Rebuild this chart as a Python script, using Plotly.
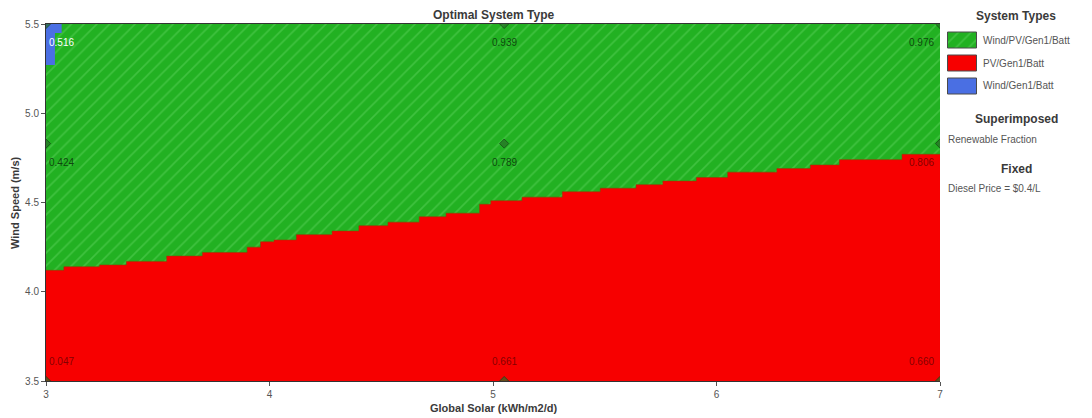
import plotly.graph_objects as go

# Sensitivity grid (global solar kWh/m2/d, wind speed m/s)
solar_points = [3.0, 5.05, 7.0]
wind_points = [3.5, 4.83, 5.5]

# Renewable fraction at each grid point, rows = wind speed (low -> high)
renewable_fraction = [
    ["0.047", "0.661", "0.660"],
    ["0.424", "0.789", "0.806"],
    ["0.516", "0.939", "0.976"],
]
# Optimal system at each grid point, same layout
optimal_system = [
    ["PV/Gen1/Batt", "PV/Gen1/Batt", "PV/Gen1/Batt"],
    ["Wind/PV/Gen1/Batt", "Wind/PV/Gen1/Batt", "PV/Gen1/Batt"],
    ["Wind/Gen1/Batt", "Wind/PV/Gen1/Batt", "Wind/PV/Gen1/Batt"],
]

# Wind speed above which Wind/PV/Gen1/Batt becomes optimal
boundary_solar = [3.00, 3.08, 3.24, 3.36, 3.54, 3.70, 3.90, 3.96, 4.02, 4.12,
                  4.28, 4.40, 4.53, 4.67, 4.79, 4.94, 4.99, 5.13, 5.31, 5.48,
                  5.64, 5.76, 5.91, 6.05, 6.27, 6.42, 6.55, 6.83, 7.00]
boundary_wind = [4.12, 4.14, 4.15, 4.17, 4.20, 4.22, 4.25, 4.28, 4.29, 4.32,
                 4.34, 4.37, 4.39, 4.42, 4.44, 4.49, 4.51, 4.53, 4.56, 4.58,
                 4.60, 4.62, 4.64, 4.67, 4.69, 4.71, 4.74, 4.77, 4.77]

# Small Wind/Gen1/Batt pocket in the upper-left corner
pocket_solar = [3.00, 3.07, 3.07, 3.04, 3.04, 3.00]
pocket_wind = [5.50, 5.50, 5.45, 5.45, 5.27, 5.27]

system_types = ["Wind/PV/Gen1/Batt", "PV/Gen1/Batt", "Wind/Gen1/Batt"]
x_ticks = [3, 4, 5, 6, 7]
y_ticks = [3.5, 4.0, 4.5, 5.0, 5.5]

GREEN = "#22b122"
GREEN_HATCH = "#3fc23f"
RED = "#f70000"
BLUE = "#4a6fe3"
FONT = "Liberation Sans, Arial, sans-serif"
HATCH = dict(shape="/", bgcolor=GREEN, fgcolor=GREEN_HATCH,
             size=9, solidity=0.18, fillmode="replace")
label_color = {"Wind/PV/Gen1/Batt": "rgba(10,50,10,0.85)",
               "PV/Gen1/Batt": "rgba(110,0,0,0.85)",
               "Wind/Gen1/Batt": "#ffffff"}

W, H = 1092, 418
px_l, px_r, px_t, px_b = 46, 940, 24, 381

fig = go.Figure()

# Green region: the full window, hatched
fig.add_trace(go.Scatter(
    x=[x_ticks[0], x_ticks[-1]], y=[y_ticks[-1], y_ticks[-1]],
    mode="lines", line=dict(width=0, color=GREEN), fill="tozeroy",
    fillcolor=GREEN, fillpattern=HATCH,
    hoverinfo="skip", showlegend=False))

# Red region below the stepped boundary
fig.add_trace(go.Scatter(
    x=boundary_solar, y=boundary_wind, mode="lines",
    line=dict(shape="hv", width=1, color="rgba(150,60,0,0.55)"),
    fill="tozeroy", fillcolor=RED, hoverinfo="skip", showlegend=False))

# Blue pocket
fig.add_trace(go.Scatter(
    x=pocket_solar, y=pocket_wind, mode="lines", line=dict(width=0),
    fill="toself", fillcolor=BLUE, hoverinfo="skip", showlegend=False))

# Grid point markers
gx, gy = [], []
for w in wind_points:
    for s in solar_points:
        gx.append(s)
        gy.append(w)
fig.add_trace(go.Scatter(
    x=gx, y=gy, mode="markers",
    marker=dict(symbol="diamond", size=7, color="rgba(40,110,40,0.7)",
                line=dict(width=1, color="rgba(20,70,20,0.7)")),
    hoverinfo="skip", showlegend=False))

annotations = []
# Renewable fraction labels
for i, w in enumerate(wind_points):
    for j, s in enumerate(solar_points):
        xanchor = "left" if j == 0 else ("center" if j == 1 else "right")
        xshift = 1 if j == 0 else (0 if j == 1 else -4)
        if i == 0:
            yanchor, yshift = "bottom", 12
        else:
            yanchor, yshift = "top", -11
        annotations.append(dict(
            x=s, y=w, xref="x", yref="y", text=renewable_fraction[i][j],
            showarrow=False, xanchor=xanchor, yanchor=yanchor,
            xshift=xshift, yshift=yshift,
            font=dict(family=FONT, size=10,
                      color=label_color[optimal_system[i][j]])))


def pxx(x):
    return x / W


def pxy(y):
    return 1 - y / H


def paper_text(x, y, text, size, color, xanchor="center", angle=0):
    return dict(x=pxx(x), y=pxy(y), xref="paper", yref="paper", text=text,
                showarrow=False, xanchor=xanchor, yanchor="middle",
                textangle=angle, font=dict(family=FONT, size=size, color=color))


DARK = "#3a3a3a"
GREY = "#555555"
# Chart and axis titles
annotations.append(paper_text((px_l + px_r) / 2, 15, "<b>Optimal System Type</b>", 12, DARK))
annotations.append(paper_text((px_l + px_r) / 2, 408, "<b>Global Solar (kWh/m2/d)</b>", 11, DARK))
annotations.append(paper_text(15, 203, "<b>Wind Speed (m/s)</b>", 11, DARK, angle=-90))

# Side panel text
side_left = 946
annotations.append(paper_text(1016, 16, "<b>System Types</b>", 12, DARK))
for k, name in enumerate(system_types):
    annotations.append(paper_text(981, 40 + 23 * k, name, 10, GREY, xanchor="left"))
annotations.append(paper_text(1016, 119, "<b>Superimposed</b>", 12, DARK))
annotations.append(paper_text(side_left, 139, "Renewable Fraction", 10, GREY, xanchor="left"))
annotations.append(paper_text(1016, 169, "<b>Fixed</b>", 12, DARK))
annotations.append(paper_text(side_left, 188, "Diesel Price = $0.4/L", 10, GREY, xanchor="left"))

# Legend swatches on a small auxiliary axis (pixel units)
sw_colors = [GREEN, RED, BLUE]
sw_top = [32, 55, 78]
for k, c in enumerate(sw_colors):
    t, b = sw_top[k], sw_top[k] + 16
    kw = {"fillpattern": HATCH} if k == 0 else {}
    fig.add_trace(go.Scatter(
        x=[0, 29, 29, 0, 0], y=[t, t, b, b, t], mode="lines",
        line=dict(width=1, color="#4a4a4a"), fill="toself", fillcolor=c,
        xaxis="x2", yaxis="y2", hoverinfo="skip", showlegend=False, **kw))

fig.update_layout(
    width=W, height=H,
    margin=dict(l=0, r=0, t=0, b=0, pad=0),
    paper_bgcolor="white", plot_bgcolor="white",
    font=dict(family=FONT, size=10, color=GREY),
    annotations=annotations,
    xaxis=dict(domain=[pxx(px_l), pxx(px_r)], range=[x_ticks[0], x_ticks[-1]],
               tickvals=x_ticks, ticktext=[str(v) for v in x_ticks],
               showgrid=False, zeroline=False, showline=True, linecolor="#333333",
               linewidth=1, mirror=True, ticks="outside", ticklen=4,
               tickcolor=GREY, tickfont=dict(size=10, color=GREY),
               anchor="y", automargin=False),
    yaxis=dict(domain=[pxy(px_b), pxy(px_t)], range=[y_ticks[0], y_ticks[-1]],
               tickvals=y_ticks, ticktext=[f"{v:.1f}" for v in y_ticks],
               showgrid=False, zeroline=False, showline=True, linecolor="#333333",
               linewidth=1, ticks="outside", ticklen=4, tickcolor=GREY,
               tickfont=dict(size=10, color=GREY), anchor="x", automargin=False),
    xaxis2=dict(domain=[pxx(947), pxx(977)], range=[-0.5, 29.5], visible=False,
                anchor="y2", fixedrange=True, automargin=False),
    yaxis2=dict(domain=[pxy(95), pxy(31)], range=[95, 31], visible=False,
                anchor="x2", fixedrange=True, automargin=False),
    showlegend=False,
)

fig.write_html("out.html")
